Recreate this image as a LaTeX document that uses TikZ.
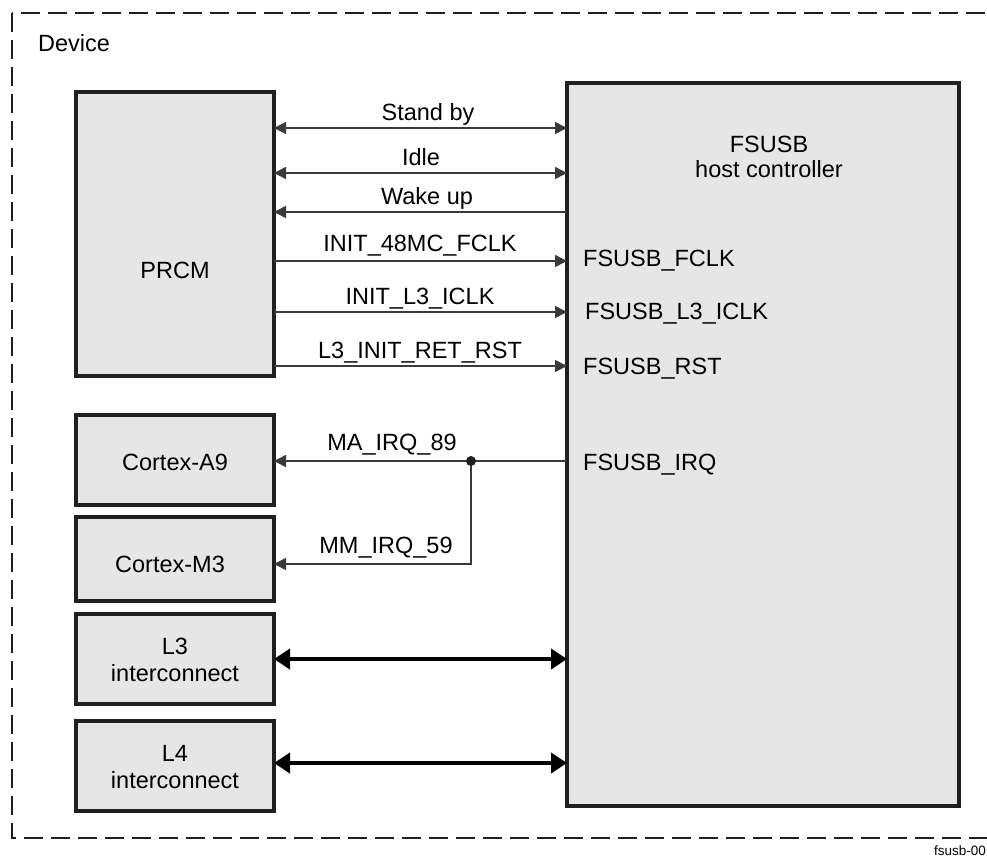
\documentclass[tikz,border=0pt]{standalone}
\usepackage{fontspec}
\setmainfont{Liberation Sans}
\usetikzlibrary{arrows.meta}
\definecolor{boxfill}{HTML}{E6E6E6}
\definecolor{boxline}{HTML}{231F20}
\definecolor{sigline}{HTML}{3A3A3A}
\begin{document}
\begin{tikzpicture}[x=1pt,y=-1pt,
  blk/.style={draw=boxline,fill=boxfill,line width=3.3pt,minimum width=198pt,inner sep=0pt,outer sep=0pt},
  lbl/.style={font=\fontsize{23.5}{28}\selectfont,inner sep=0pt,anchor=base,text=black},
  lbll/.style={lbl,anchor=base west},
  sig/.style={draw=sigline,line width=1.5pt},
  tip/.style={-{Triangle[length=12pt,width=12pt]}},
  bus/.style={draw=black,line width=4.5pt,{Triangle[length=16pt,width=20pt]}-{Triangle[length=16pt,width=20pt]}}]
\useasboundingbox (0,0) rectangle (987,859);
\clip (0,0) rectangle (987,859);
\draw[boxline,line width=2.8pt,dash pattern=on 19pt off 8pt] (12,13) rectangle (1010,838);
\node[lbll] (dev) at (38,52) {Device};
\node[font=\fontsize{13.5}{16}\selectfont,anchor=base east,inner sep=0pt] (tag) at (986,855) {fsusb-00};
% blocks
\node[blk,minimum height=284pt] (prcm) at (175,234) {};
\node[blk,minimum height=90pt] (ca9) at (175,460) {};
\node[blk,minimum height=84pt] (cm3) at (175,559) {};
\node[blk,minimum height=90pt] (l3) at (175,659) {};
\node[blk,minimum height=90pt] (l4) at (175,766) {};
\node[blk,minimum width=392pt,minimum height=723pt] (fs) at (763,444.5) {};
% block texts
\node[lbl] (tprcm) at (175,278) {PRCM};
\node[lbl] (tca9) at (175,470) {Cortex-A9};
\node[lbl] (tcm3) at (170,572) {Cortex-M3};
\node[lbl] (tl3a) at (175,654) {L3};
\node[lbl] (tl3b) at (175,681) {interconnect};
\node[lbl] (tl4a) at (175,761) {L4};
\node[lbl] (tl4b) at (175,788) {interconnect};
\node[lbl] (tfs1) at (769,152) {FSUSB};
\node[lbl] (tfs2) at (769,177) {host controller};
\node[lbll] (pfclk) at (583,266) {FSUSB\_FCLK};
\node[lbll] (piclk) at (585,319) {FSUSB\_L3\_ICLK};
\node[lbll] (prst) at (583,374) {FSUSB\_RST};
\node[lbll] (pirq) at (583,470) {FSUSB\_IRQ};
% signal labels
\node[lbl] (ssb) at (428,120) {Stand by};
\node[lbl] (sid) at (421,165) {Idle};
\node[lbl] (swu) at (427,204) {Wake up};
\node[lbl] (sfc) at (420,251) {INIT\_48MC\_FCLK};
\node[lbl] (sic) at (420,304) {INIT\_L3\_ICLK};
\node[lbl] (srs) at (420,358) {L3\_INIT\_RET\_RST};
\node[lbl] (sma) at (392,450) {MA\_IRQ\_89};
\node[lbl] (smm) at (386,553) {MM\_IRQ\_59};
% signals
\draw[sig,{Triangle[length=12pt,width=12pt]}-{Triangle[length=12pt,width=12pt]}] (prcm.east |- 0,128) -- (fs.west |- 0,128);
\draw[sig,{Triangle[length=12pt,width=12pt]}-{Triangle[length=12pt,width=12pt]}] (prcm.east |- 0,173) -- (fs.west |- 0,173);
\draw[sig,tip] (fs.west |- 0,212) -- (prcm.east |- 0,212);
\draw[sig,tip] (prcm.east |- 0,261) -- (fs.west |- 0,261);
\draw[sig,tip] (prcm.east |- 0,312) -- (fs.west |- 0,312);
\draw[sig,tip] (prcm.east |- 0,366) -- (fs.west |- 0,366);
\coordinate (jn) at (471,461);
\draw[sig,tip] (fs.west |- jn) -- (ca9.east |- jn);
\draw[sig,tip] (jn) -- (jn |- 0,564) -- (cm3.east |- 0,564);
\fill[boxline] (jn) circle (5pt);
% buses
\draw[bus] (l3.east) -- (fs.west |- l3.east);
\draw[bus] (l4.east |- 0,763) -- (fs.west |- 0,763);
\end{tikzpicture}
\end{document}
